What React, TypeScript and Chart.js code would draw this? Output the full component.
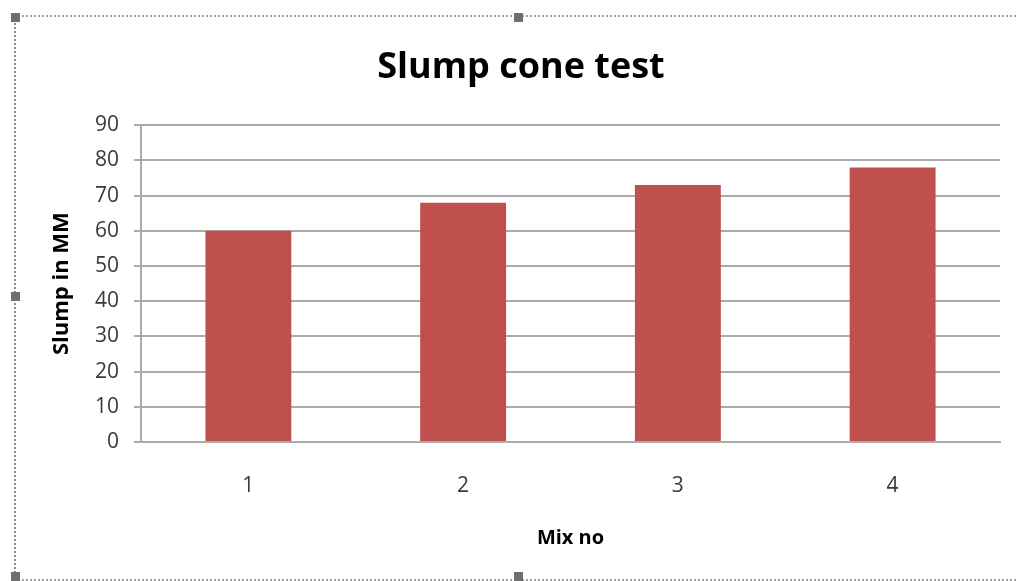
import React, { useEffect, useRef } from "react";
import { Chart, registerables } from "chart.js";

Chart.register(...registerables);

const categories = ["1", "2", "3", "4"];
const slumpValues = [60, 68, 73, 78];
const chartTitle = "Slump cone test";
const xTitle = "Mix no";
const yTitle = "Slump in MM";

const FONT = "'Open Sans', Lato, 'Liberation Sans', sans-serif";

export default function App() {
  const ref = useRef<HTMLCanvasElement | null>(null);

  useEffect(() => {
    if (!ref.current) return;
    const chart = new Chart(ref.current, {
      type: "bar",
      data: {
        labels: categories,
        datasets: [
          {
            data: slumpValues,
            backgroundColor: "#C0504D",
            borderWidth: 0,
            categoryPercentage: 1,
            barPercentage: 0.4,
          },
        ],
      },
      options: {
        animation: false,
        responsive: false,
        layout: { padding: { left: 42, right: 17, top: 0, bottom: 0 } },
        plugins: {
          legend: { display: false },
          tooltip: { enabled: false },
          title: {
            display: true,
            text: chartTitle,
            color: "#000000",
            font: { family: FONT, size: 36, weight: "bold", lineHeight: 1.2 },
            padding: { top: 46, bottom: 36 },
          },
        },
        scales: {
          x: {
            grid: { display: false, drawTicks: false },
            border: { display: true, color: "#ABABAB", width: 2 },
            ticks: {
              color: "#3a3a3a",
              font: { family: FONT, size: 21 },
              padding: 31,
            },
            title: {
              display: true,
              text: xTitle,
              color: "#000000",
              font: { family: FONT, size: 20, weight: "bold" },
              padding: { top: 0, bottom: 31 },
            },
            afterFit: (s: any) => {
              s.height = 139;
            },
          },
          y: {
            min: 0,
            max: 90,
            ticks: {
              stepSize: 10,
              color: "#3a3a3a",
              font: { family: FONT, size: 21 },
              padding: 15,
            },
            grid: {
              color: "#ABABAB",
              lineWidth: 2,
              tickLength: 7,
              drawTicks: true,
            },
            border: { display: true, color: "#ABABAB", width: 2 },
            title: {
              display: true,
              text: yTitle,
              color: "#000000",
              font: { family: FONT, size: 22, weight: "bold" },
              padding: { top: 7, bottom: 0 },
            },
            afterFit: (s: any) => {
              s.width = 99;
            },
          },
        },
      },
    });
    return () => chart.destroy();
  }, []);

  const handle = (left: number, top: number) => (
    <div
      style={{
        position: "absolute",
        left,
        top,
        width: 9,
        height: 9,
        background: "#6f6f6f",
      }}
    />
  );

  return (
    <div
      style={{
        position: "fixed",
        left: 0,
        top: 0,
        width: 1017,
        height: 581,
        background: "#ffffff",
        overflow: "hidden",
      }}
    >
      <canvas
        ref={ref}
        width={1017}
        height={581}
        style={{ position: "absolute", left: 0, top: 0, width: 1017, height: 581 }}
      />
      <div
        style={{
          position: "absolute",
          left: 14,
          top: 15,
          width: 1020,
          height: 562,
          borderLeft: "2px dotted #8a8a8a",
          borderTop: "2px dotted #a0a0a0",
          borderBottom: "2px dotted #a0a0a0",
          pointerEvents: "none",
        }}
      />
      {handle(11, 13)}
      {handle(514, 13)}
      {handle(11, 292)}
      {handle(11, 572)}
      {handle(514, 572)}
    </div>
  );
}
